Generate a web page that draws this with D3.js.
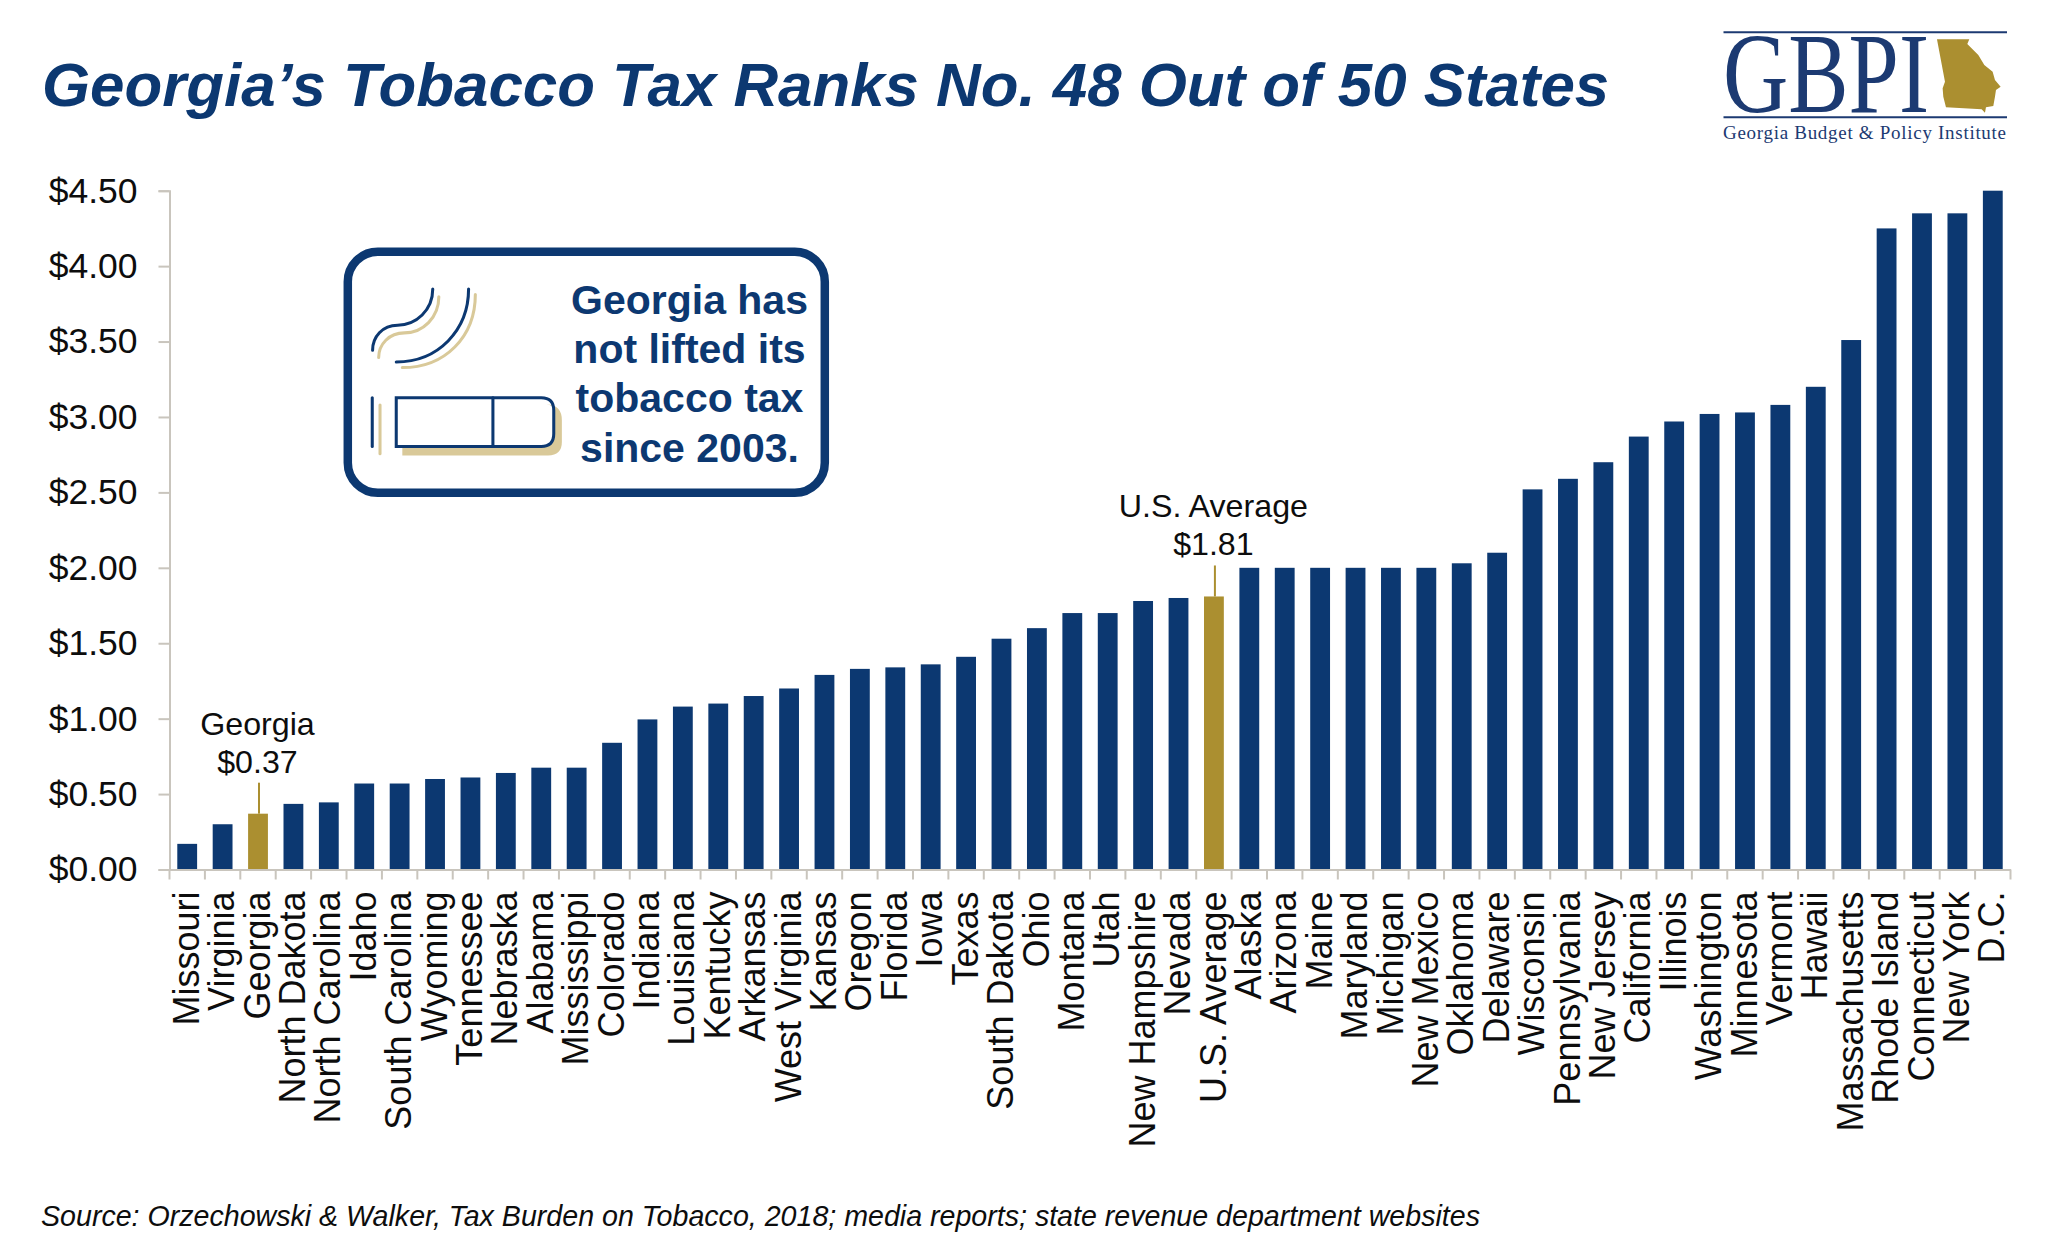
<!DOCTYPE html>
<html>
<head>
<meta charset="utf-8">
<script src="https://cdn.jsdelivr.net/npm/d3@7"></script>
<style>
    html, body { margin: 0; background: #fff; }
    text { font-family: "Liberation Sans", Arial, sans-serif; fill: #0d0d0d; }
    .navy { fill: #0c3871; }
    .axis-line { stroke: #c9c5bd; stroke-width: 2; fill: none; }
    .serif { font-family: "Liberation Serif", serif; fill: #1c3a72; }
</style>
</head>
<body>
<svg id="chart" width="2048" height="1255"></svg>
<script>
const states = ['Missouri', 'Virginia', 'Georgia', 'North Dakota', 'North Carolina', 'Idaho', 'South Carolina', 'Wyoming',
    'Tennessee', 'Nebraska', 'Alabama', 'Mississippi', 'Colorado', 'Indiana', 'Louisiana', 'Kentucky', 'Arkansas',
    'West Virginia', 'Kansas', 'Oregon', 'Florida', 'Iowa', 'Texas', 'South Dakota', 'Ohio', 'Montana', 'Utah',
    'New Hampshire', 'Nevada', 'U.S. Average', 'Alaska', 'Arizona', 'Maine', 'Maryland', 'Michigan', 'New Mexico',
    'Oklahoma', 'Delaware', 'Wisconsin', 'Pennsylvania', 'New Jersey', 'California', 'Illinois', 'Washington',
    'Minnesota', 'Vermont', 'Hawaii', 'Massachusetts', 'Rhode Island', 'Connecticut', 'New York', 'D.C.'];
const taxes = [0.17, 0.30, 0.37, 0.435, 0.445, 0.57, 0.57, 0.60,
    0.61, 0.64, 0.675, 0.675, 0.84, 0.995, 1.08, 1.10, 1.15,
    1.20, 1.29, 1.33, 1.34, 1.36, 1.41, 1.53, 1.60, 1.70, 1.70,
    1.78, 1.80, 1.81, 2.00, 2.00, 2.00, 2.00, 2.00, 2.00,
    2.03, 2.10, 2.52, 2.59, 2.70, 2.87, 2.97, 3.02,
    3.03, 3.08, 3.20, 3.51, 4.25, 4.35, 4.35, 4.50];
const yTicks = [0, 0.5, 1, 1.5, 2, 2.5, 3, 3.5, 4, 4.5];
const highlighted = ['Georgia', 'U.S. Average'];
const callouts = [
    {state: 'Georgia', name: 'Georgia', amount: '$0.37'},
    {state: 'U.S. Average', name: 'U.S. Average', amount: '$1.81'}
];
const calloutLines = ['Georgia has', 'not lifted its', 'tobacco tax', 'since 2003.'];

const NAVY = '#0c3871', GOLD = '#ab8f30', TAN = '#d9c999';
const svg = d3.select('#chart');
const data = states.map((s, i) => ({state: s, tax: taxes[i]}));

const x = d3.scaleBand().domain(states).range([169.5, 2010.5]).paddingInner(0.44).paddingOuter(0.22);
const y = d3.scaleLinear().domain([0, 4.5]).range([869.5, 190.7]);

// title
svg.append('text').attr('x', 42).attr('y', 106).attr('class', 'navy')
    .attr('font-size', 61.8).attr('font-weight', 'bold').attr('font-style', 'italic')
    .text('Georgia\u2019s Tobacco Tax Ranks No. 48 Out of 50 States');

// bars
svg.append('g').selectAll('rect').data(data).join('rect')
    .attr('x', d => x(d.state))
    .attr('y', d => y(d.tax))
    .attr('width', x.bandwidth())
    .attr('height', d => y(0) - y(d.tax))
    .attr('fill', d => highlighted.includes(d.state) ? GOLD : NAVY);

// y axis
const yAxis = svg.append('g').attr('transform', `translate(${x.range()[0]},0)`)
    .call(d3.axisLeft(y).tickValues(yTicks).tickSize(11).tickPadding(21).tickFormat(d3.format('$.2f')));
yAxis.selectAll('.domain, line').attr('class', 'axis-line').attr('stroke', null);
yAxis.selectAll('text').attr('font-size', 35.5).attr('fill', null);
yAxis.attr('font-family', null);

// x axis: labels from the axis, tick marks sit between the bands
const xAxis = svg.append('g').attr('transform', `translate(0,${y(0)})`)
    .call(d3.axisBottom(x).tickSize(0).tickSizeOuter(0));
xAxis.attr('font-family', null);
xAxis.select('.domain').attr('class', 'axis-line').attr('stroke', null);
xAxis.selectAll('text')
    .attr('font-size', 36).attr('fill', null)
    .attr('text-anchor', 'end').attr('dy', '0.35em')
    .attr('transform', 'translate(-1,22) rotate(-90)').attr('y', 0).attr('x', 0);
xAxis.selectAll('.edge').data(d3.range(states.length + 1)).join('line')
    .attr('class', 'edge axis-line')
    .attr('x1', i => x.range()[0] + i * x.step())
    .attr('x2', i => x.range()[0] + i * x.step())
    .attr('y1', 0).attr('y2', 10);

// bar callouts
callouts.forEach(c => {
    const cx = x(c.state) + x.bandwidth() / 2;
    const top = y(taxes[states.indexOf(c.state)]);
    svg.append('line').attr('x1', cx + 1).attr('x2', cx + 1).attr('y1', top).attr('y2', top - 31)
        .attr('stroke', GOLD).attr('stroke-width', 2);
    svg.append('text').attr('x', cx - 0.5).attr('y', top - 79).attr('text-anchor', 'middle').attr('font-size', 32.2).text(c.name);
    svg.append('text').attr('x', cx - 0.5).attr('y', top - 41).attr('text-anchor', 'middle').attr('font-size', 32.2).text(c.amount);
});

// text box with the cigarette icon
svg.append('rect').attr('x', 347.8).attr('y', 251.8).attr('width', 477).attr('height', 241).attr('rx', 30)
    .attr('fill', '#fff').attr('stroke', NAVY).attr('stroke-width', 8.5);
svg.append('g').selectAll('text').data(calloutLines).join('text')
    .attr('class', 'navy').attr('x', 689.5).attr('y', (d, i) => 313.8 + i * 49.3)
    .attr('text-anchor', 'middle').attr('font-size', 41).attr('font-weight', 'bold').text(d => d);

const icon = svg.append('g').attr('transform', 'translate(330,230) scale(0.338,0.334)')
    .attr('fill', 'none').attr('stroke-width', 9).attr('stroke-linecap', 'round');
icon.append('path').attr('stroke', 'none').attr('fill', TAN)
    .attr('d', 'M640 522 Q686 524 686 570 V635 Q686 675 645 675 H214 V650 H625 Q662 648 662 610 V540 Q662 525 640 522 Z');
[['M144 382 C144 342 175 308 220 308 C275 308 322 262 322 200', TAN],
 ['M214 412 C340 412 430 320 430 193', TAN],
 ['M148 524 V670', TAN],
 ['M126 360 C126 320 155 285 200 285 C255 285 304 240 304 177', NAVY],
 ['M196 395 C320 395 410 300 410 177', NAVY],
 ['M125 502 V648', NAVY],
 ['M196 502 H625 Q662 502 662 540 V610 Q662 648 625 648 H196 Z', NAVY],
 ['M482 502 V648', NAVY]
].forEach(([d, color]) => icon.append('path').attr('d', d).attr('stroke', color));

// logo
const logo = svg.append('g').attr('transform', 'translate(1680,0)');
[32.3, 117.3].forEach(ly => logo.append('line').attr('x1', 43.5).attr('x2', 327).attr('y1', ly).attr('y2', ly)
    .attr('stroke', '#1c3a72').attr('stroke-width', 2));
logo.append('text').attr('class', 'serif').attr('x', 43).attr('y', 112).attr('font-size', 115)
    .attr('textLength', 206).attr('lengthAdjust', 'spacingAndGlyphs').text('GBPI');
logo.append('path').attr('fill', GOLD).attr('transform', 'scale(0.3333)')
    .attr('d', 'M771 118 L868 118 L862 132 L895 165 L913 195 L938 215 L945 240 L962 260 L948 270 L945 290 L940 318 L918 322 L915 338 L905 328 L798 322 L790 290 L788 265 L795 245 Z');
logo.append('text').attr('class', 'serif').attr('x', 43).attr('y', 138.5).attr('font-size', 19)
    .attr('textLength', 283).text('Georgia Budget & Policy Institute');

// source
svg.append('text').attr('x', 41).attr('y', 1226).attr('font-size', 28.6).attr('font-style', 'italic')
    .text('Source: Orzechowski & Walker, Tax Burden on Tobacco, 2018; media reports; state revenue department websites');
</script>
</body>
</html>
